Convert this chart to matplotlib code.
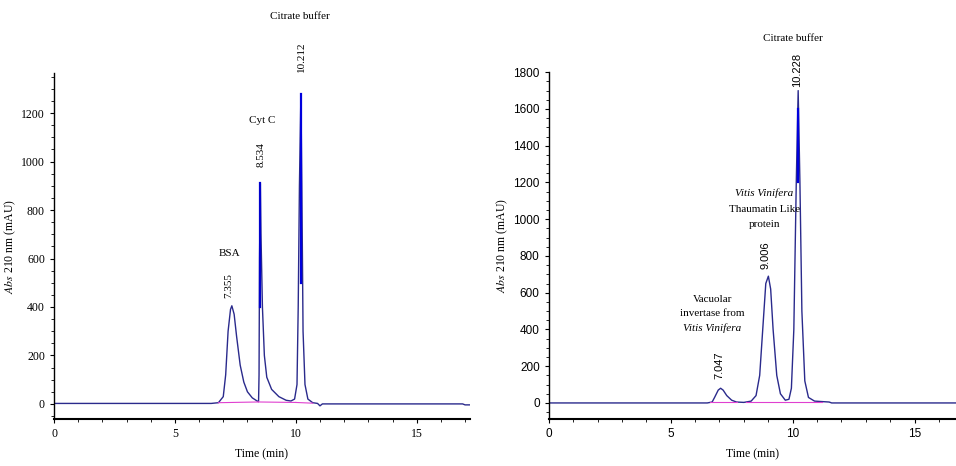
import matplotlib.pyplot as plt
from matplotlib.ticker import MultipleLocator

plt.rcParams['mathtext.fontset'] = 'stix'

# left run: protein standards
left_time = [0.0, 3.0, 6.5, 6.8, 7.0, 7.1, 7.2, 7.3, 7.355, 7.45, 7.55, 7.7, 7.85, 8.0, 8.2,
             8.4, 8.46, 8.48, 8.5, 8.534, 8.56, 8.62, 8.7, 8.8, 9.0, 9.3, 9.6, 9.8, 9.95,
             10.05, 10.1, 10.15, 10.212, 10.25, 10.3, 10.38, 10.5, 10.7, 10.9, 11.0, 11.1,
             16.9, 17.0, 17.2]
left_abs = [2, 2, 2, 5, 30, 120, 300, 390, 405, 370, 280, 160, 90, 50, 25,
            12, 10, 120, 600, 910, 700, 400, 200, 110, 60, 30, 15, 12, 20,
            80, 400, 900, 1280, 900, 300, 80, 20, 5, 2, -8, 0,
            0, -4, -4]
left_base = [[6.8, 8.45], [8.45, 10.0], [10.0, 10.7]]
left_base_y = [[5, 8], [8, 6], [6, 3]]

# right run: grape proteins
right_time = [0.0, 3.0, 6.5, 6.7, 6.8, 6.95, 7.047, 7.15, 7.3, 7.5, 7.7, 8.0, 8.3, 8.5,
              8.65, 8.8, 8.9, 9.006, 9.1, 9.2, 9.35, 9.5, 9.7, 9.85, 9.95, 10.05, 10.15,
              10.228, 10.3, 10.38, 10.5, 10.65, 10.9, 11.5, 11.6, 16.7]
right_abs = [0, 0, 0, 5, 30, 70, 80, 70, 40, 15, 5, 3, 10, 40,
             150, 450, 650, 690, 620, 400, 150, 50, 15, 20, 80, 400, 1200,
             1700, 1200, 500, 120, 30, 10, 5, 0, 0]
right_base = [[6.6, 7.7], [8.1, 9.7], [9.7, 11.2]]
right_base_y = [[3, 3], [3, 3], [3, 3]]

serif = 'Liberation Serif'
sans = 'Liberation Sans'
navy = '#2a2a8c'
pink = '#e040d0'

fig = plt.figure(figsize=(9.56, 4.66), dpi=100)
ax1 = fig.add_axes([0.0565, 0.101, 0.435, 0.742])
ax2 = fig.add_axes([0.574, 0.101, 0.426, 0.744])


def style_axes(ax, tickfont):
    ax.spines['top'].set_visible(False)
    ax.spines['right'].set_visible(False)
    ax.spines['bottom'].set_linewidth(1.5)
    ax.spines['left'].set_linewidth(1)
    ax.xaxis.set_major_locator(MultipleLocator(5))
    ax.xaxis.set_minor_locator(MultipleLocator(1))
    ax.tick_params(axis='both', which='major', length=3, width=0.8, labelsize=8.5)
    ax.tick_params(axis='both', which='minor', length=2, width=0.6)
    for lab in ax.get_xticklabels() + ax.get_yticklabels():
        lab.set_fontfamily(tickfont)
    ax.set_xlabel('Time (min)', fontfamily=serif, fontsize=8.5, labelpad=6)
    ax.set_ylabel(r'$\mathit{Abs}$ 210 nm (mAU)', fontfamily=serif, fontsize=8.5,
                  labelpad=2)


# left panel
ax1.plot(left_time, left_abs, color=navy, lw=1)
for xs, ys in zip(left_base, left_base_y):
    ax1.plot(xs, ys, color=pink, lw=0.8)
ax1.plot([8.534, 8.534], [400, 910], color='#0000cc', lw=1.6)
ax1.plot([10.212, 10.212], [500, 1280], color='#0000dd', lw=1.6)
ax1.set_xlim(0, 17.2)
ax1.set_ylim(-62, 1365)
ax1.yaxis.set_major_locator(MultipleLocator(200))
ax1.yaxis.set_minor_locator(MultipleLocator(50))
style_axes(ax1, serif)

tkw = dict(fontfamily=serif, fontsize=8, ha='center', va='center', clip_on=False)
ax1.text(10.17, 1600, 'Citrate buffer', **tkw)
ax1.text(10.25, 1431, '10.212', rotation=90, **tkw)
ax1.text(8.6, 1171, 'Cyt C', **tkw)
ax1.text(8.55, 1027, '8.534', rotation=90, **tkw)
ax1.text(7.27, 619, 'BSA', **tkw)
ax1.text(7.23, 490, '7.355', rotation=90, **tkw)

# right panel
ax2.plot(right_time, right_abs, color=navy, lw=1)
for xs, ys in zip(right_base, right_base_y):
    ax2.plot(xs, ys, color=pink, lw=0.8)
ax2.plot([10.228, 10.228], [1200, 1600], color='#0000dd', lw=1.6)
ax2.set_xlim(0, 16.7)
ax2.set_ylim(-87, 1800)
ax2.yaxis.set_major_locator(MultipleLocator(200))
ax2.yaxis.set_minor_locator(MultipleLocator(50))
style_axes(ax2, sans)

skw = dict(fontfamily=sans, fontsize=8, ha='center', va='center', clip_on=False)
ax2.text(10.0, 1984, 'Citrate buffer', **tkw)
ax2.text(10.2, 1810, '10.228', rotation=90, **skw)
ax2.text(8.85, 1141, 'Vitis Vinifera', style='italic', **tkw)
ax2.text(8.85, 1054, 'Thaumatin Like', **tkw)
ax2.text(8.85, 973, 'protein', **tkw)
ax2.text(8.9, 804, '9.006', rotation=90, **skw)
ax2.text(6.7, 565, 'Vacuolar', **tkw)
ax2.text(6.7, 489, 'invertase from', **tkw)
ax2.text(6.7, 408, 'Vitis Vinifera', style='italic', **tkw)
ax2.text(7.0, 206, '7.047', rotation=90, **skw)

fig.savefig('out.png', dpi=100)
